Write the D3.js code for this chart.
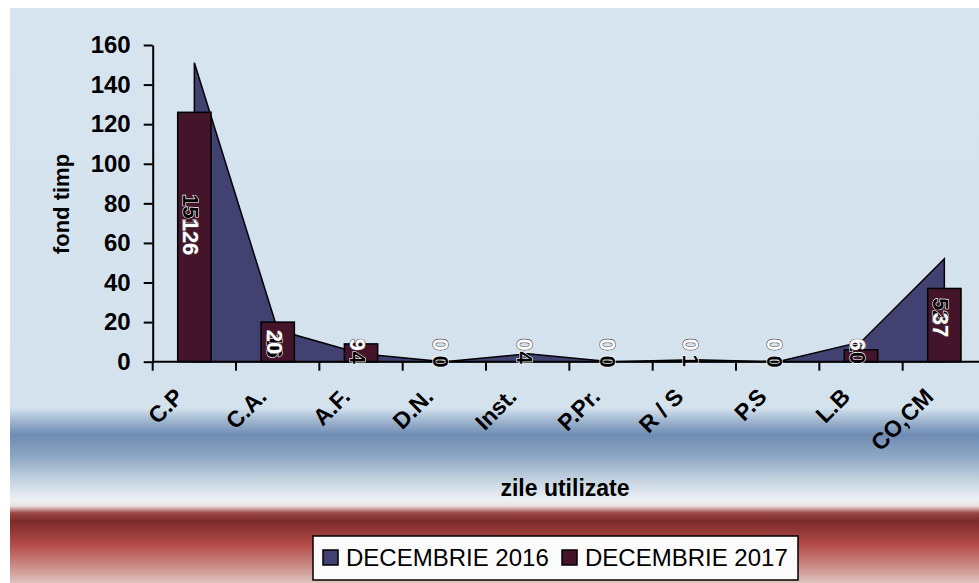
<!DOCTYPE html>
<html>
<head>
<meta charset="utf-8">
<script src="https://cdn.jsdelivr.net/npm/d3@7/dist/d3.min.js"></script>
<style>
  html, body { margin: 0; padding: 0; background: #ffffff; }
  svg { display: block; }
  text { font-family: "Liberation Sans", Arial, sans-serif; }
</style>
</head>
<body>
<svg id="chart" width="979" height="583"></svg>
<script>
const categories = ["C.P", "C.A.", "A.F.", "D.N.", "Inst.", "P.Pr.", "R / S", "P.S", "L.B", "CO,CM"];
const dec2016 = [151, 16, 4, 0, 4, 0, 1, 0, 10, 52];
const dec2017 = [126, 20, 9, 0, 0, 0, 0, 0, 6, 37];
const yTicks = [0, 20, 40, 60, 80, 100, 120, 140, 160];
const seriesNames = ["DECEMBRIE 2016", "DECEMBRIE 2017"];

const W = 979, H = 583;
const svg = d3.select("#chart");

// background with gradient bands
const defs = svg.append("defs");
const grad = defs.append("linearGradient").attr("id", "bg").attr("x1", 0).attr("y1", 0).attr("x2", 0).attr("y2", 1);
const bgTop = 8, bgH = H - bgTop;
[
  [8, "#d6e4ef"], [408, "#d4e2ee"], [420, "#a3b9d1"], [435, "#6f8bb4"], [456, "#8ba6c3"],
  [480, "#c4d3e0"], [500, "#eef1f4"], [506, "#ebe0de"], [513, "#9a4846"], [521, "#7b2a2a"],
  [545, "#b54c49"], [565, "#c98883"], [583, "#dfc4be"]
].forEach(([y, c]) => grad.append("stop").attr("offset", (y - bgTop) / bgH).attr("stop-color", c));

svg.append("rect").attr("x", 10).attr("y", bgTop).attr("width", W - 10).attr("height", bgH).attr("fill", "url(#bg)");

// scales
const x = d3.scaleBand().domain(categories).range([152.7, 986]).paddingInner(0.6).paddingOuter(0.3);
const y = d3.scaleLinear().domain([0, 160]).range([361.7, 45]);
const cx = c => x(c) + x.bandwidth() / 2;

const colArea = "#424272", colBar = "#43142a";

// area series
const areaData = categories.map((c, i) => ({ c, v: dec2016[i] }));
const area = d3.area().x(d => cx(d.c)).y0(y(0)).y1(d => y(d.v));
svg.append("path").datum(areaData).attr("d", area)
  .attr("fill", colArea).attr("stroke", "#000").attr("stroke-width", 1.5).attr("stroke-linejoin", "miter");

// bars
const barData = categories.map((c, i) => ({ c, v: dec2017[i] }));
svg.append("g").selectAll("rect").data(barData).join("rect")
  .attr("x", d => x(d.c)).attr("width", x.bandwidth())
  .attr("y", d => y(d.v)).attr("height", d => y(0) - y(d.v))
  .attr("fill", colBar).attr("stroke", "#000").attr("stroke-width", 1.5);

// axes
const yAxis = d3.axisLeft(y).tickValues(yTicks).tickSize(9).tickPadding(13).tickSizeOuter(0);
const gy = svg.append("g").attr("transform", `translate(152.7,0)`).call(yAxis);
gy.select(".domain").attr("stroke", "#000").attr("stroke-width", 2);
gy.selectAll(".tick line").attr("stroke", "#000").attr("stroke-width", 2);
gy.selectAll(".tick text").attr("font-size", 24).attr("font-weight", "bold").attr("fill", "#000")
  .attr("font-family", "Liberation Sans, Arial, sans-serif");

// x axis line + ticks at category boundaries
const gx = svg.append("g");
gx.append("line").attr("x1", 152.7).attr("x2", W).attr("y1", y(0)).attr("y2", y(0))
  .attr("stroke", "#000").attr("stroke-width", 2);
const bounds = categories.map(c => x(c) - x.step() * x.paddingInner() / 2);
gx.selectAll("line.tk").data(bounds).join("line").attr("class", "tk")
  .attr("x1", d => d).attr("x2", d => d).attr("y1", y(0)).attr("y2", y(0) + 9)
  .attr("stroke", "#000").attr("stroke-width", 2);
gx.selectAll("text").data(categories).join("text")
  .attr("transform", d => `translate(${cx(d) - 21},${y(0) + 25}) rotate(-45)`)
  .attr("text-anchor", "end").attr("dy", "0.7em")
  .attr("font-size", 23).attr("font-weight", "bold").attr("fill", "#000")
  .text(d => d);

// axis titles
svg.append("text").attr("transform", "translate(69,204) rotate(-90)")
  .attr("text-anchor", "middle").attr("font-size", 22).attr("font-weight", "bold").text("fond timp");
svg.append("text").attr("x", 565).attr("y", 496)
  .attr("text-anchor", "middle").attr("font-size", 23).attr("font-weight", "bold").text("zile utilizate");

// data labels (rotated 90deg)
function label(txt, px, py, fill, halo) {
  svg.append("text").attr("transform", `translate(${px},${py}) rotate(90)`)
    .attr("text-anchor", "middle").attr("dy", "0.36em")
    .attr("font-size", 22).attr("font-weight", "bold")
    .attr("fill", fill).attr("stroke", halo).attr("stroke-width", 1.2).attr("paint-order", "stroke")
    .text(txt);
}
areaData.forEach(d => label(d.v, cx(d.c) - 3, y(d.v / 2), "#000", "#ffffff"));
barData.forEach(d => label(d.v, cx(d.c) - 3, Math.min((y(d.v) + y(0)) / 2, y(0) - 17), "#ffffff", "#5a4a52"));

// legend
const lg = svg.append("g");
lg.append("rect").attr("x", 313).attr("y", 536).attr("width", 485).attr("height", 44)
  .attr("fill", "#fbfbfb").attr("stroke", "#000").attr("stroke-width", 1.5);
const legendX = [323, 562];
[colArea, colBar].forEach((c, i) => {
  lg.append("rect").attr("x", legendX[i]).attr("y", 550).attr("width", 15).attr("height", 15)
    .attr("fill", c).attr("stroke", "#000").attr("stroke-width", 1.5);
  lg.append("text").attr("x", legendX[i] + 23).attr("y", 566).attr("font-size", 24).attr("fill", "#000")
    .text(seriesNames[i]);
});
</script>
</body>
</html>
